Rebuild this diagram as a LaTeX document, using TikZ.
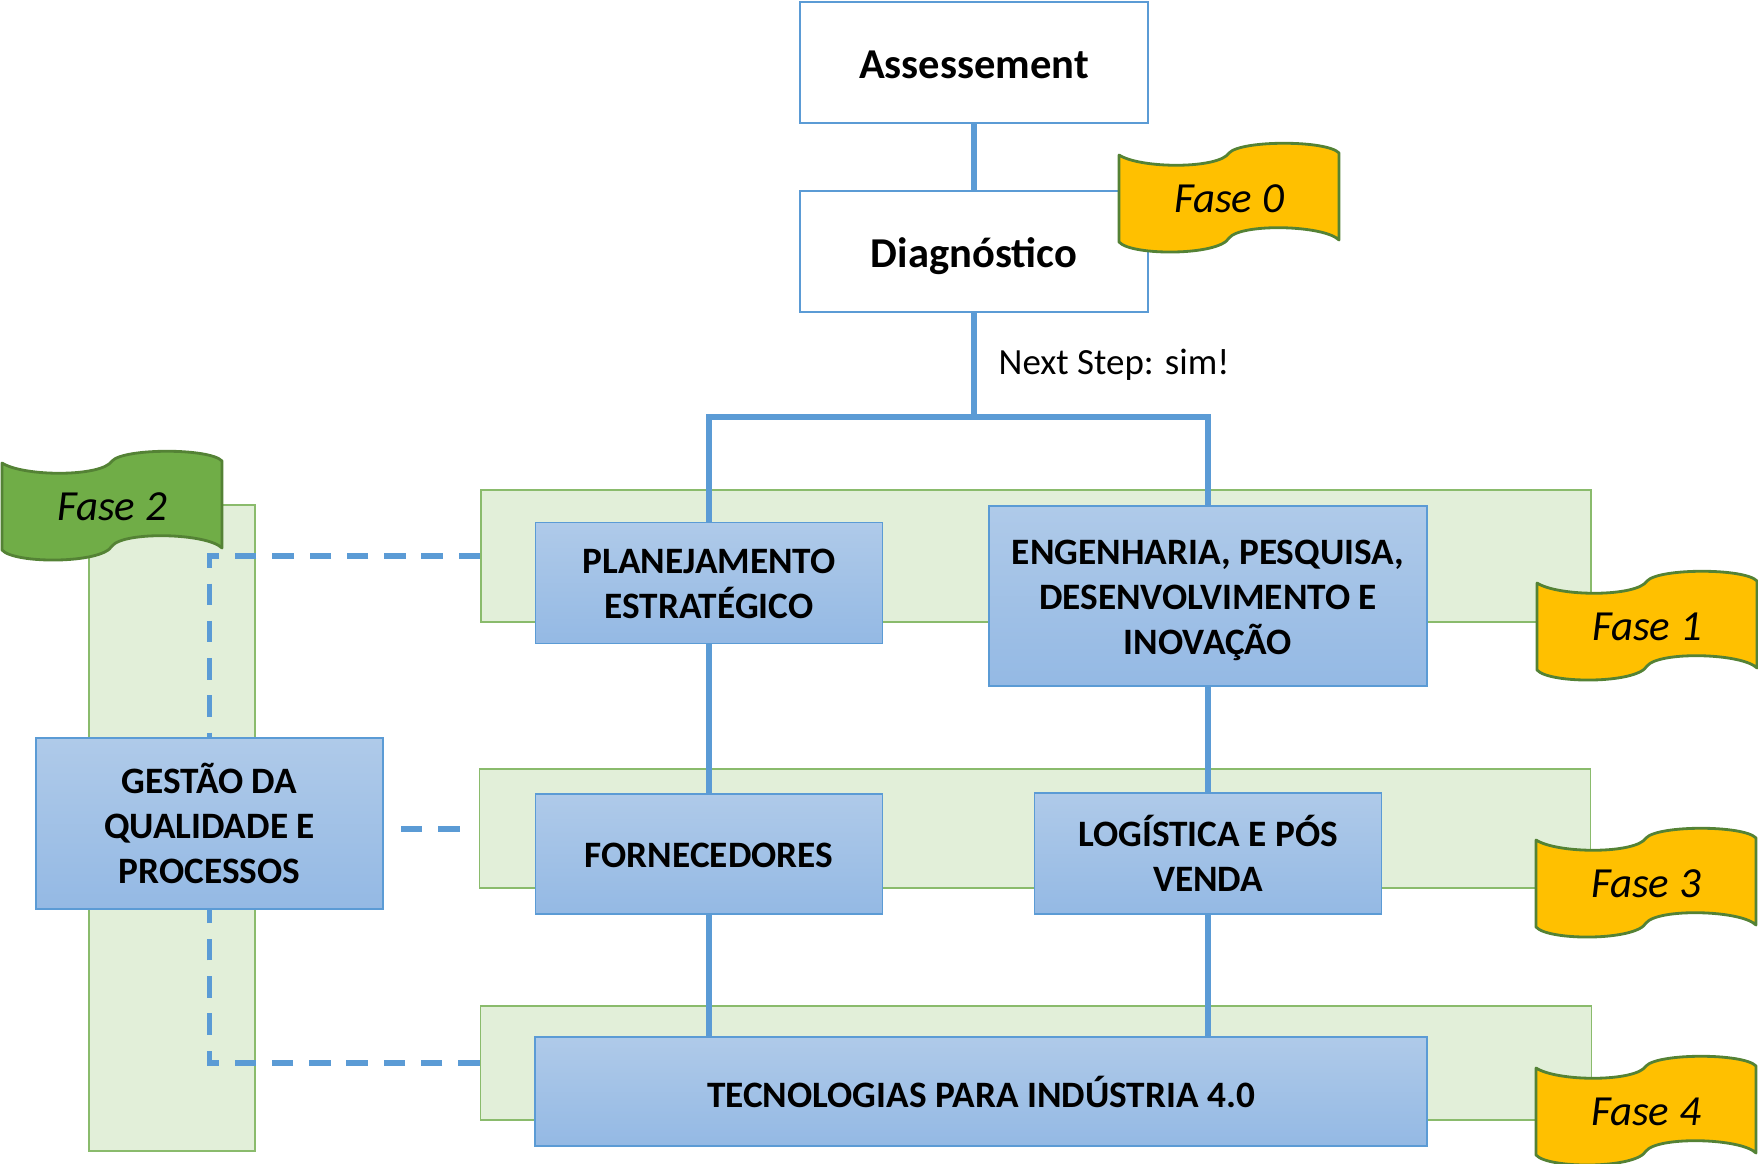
\documentclass[tikz,border=0pt]{standalone}
\usepackage{fontspec}
\setmainfont{Carlito}
\usetikzlibrary{positioning}

\definecolor{boxline}{HTML}{5B9BD5}
\definecolor{boxtop}{HTML}{AFCAE9}
\definecolor{boxbottom}{HTML}{94B9E4}
\definecolor{bandfill}{HTML}{E2EFD9}
\definecolor{bandline}{HTML}{8ABB6C}
\definecolor{flagline}{HTML}{548235}
\definecolor{flaggold}{HTML}{FFC000}
\definecolor{flaggreen}{HTML}{70AD47}

% wave flag, origin at its upper left corner
\newcommand{\faseflag}[5]{
    \draw[flag, fill=#4, shift={(#2,#3)}] (0,0) .. controls (22,14) and (100,14) .. (110,-2)
        .. controls (122,-15) and (208,-15) .. (220,-2) -- (220,85)
        .. controls (205,70) and (122,68) .. (110,83)
        .. controls (100,101) and (12,101) .. (0,87) -- cycle;
    \node[fasetext] at (#2+110,#3+44) (#1) {#5};
}

\begin{document}
\begin{tikzpicture}[x=0.01cm, y=-0.01cm,
    band/.style = {draw=bandline, fill=bandfill, line width=0.5pt, inner sep=0pt},
    white box/.style = {draw=boxline, fill=white, line width=0.7pt, inner sep=0pt, font=\fontsize{12.1}{14}\selectfont\bfseries},
    blue box/.style = {draw=boxline, top color=boxtop, bottom color=boxbottom, line width=0.5pt, inner sep=0pt, align=center, font=\fontsize{10.6}{12.8}\selectfont\bfseries},
    link/.style = {draw=boxline, line width=1.8pt},
    dashlink/.style = {draw=boxline, line width=1.6pt, dash pattern=on 6.1pt off 4.5pt},
    flag/.style = {draw=flagline, line width=0.8pt, line join=round},
    fasetext/.style = {inner sep=0pt, font=\fontsize{12.2}{14}\selectfont\itshape}]
    \useasboundingbox (0,0) rectangle (1758,1164);

    % green bands
    \node[band, minimum width=166*0.01cm, minimum height=646*0.01cm] at (172,828) (band2) {};
    \node[band, minimum width=1110*0.01cm, minimum height=132*0.01cm] at (1036,556) (phase1) {};
    \node[band, minimum width=1111*0.01cm, minimum height=119*0.01cm] at (1035,828.5) (phase3) {};
    \node[band, minimum width=1111*0.01cm, minimum height=114*0.01cm] at (1036,1063) (phase4) {};

    % boxes
    \node[white box, minimum width=348*0.01cm, minimum height=121*0.01cm] at (974,62.5) (assess) {\rule{0pt}{9pt}Assessement};
    \node[white box, minimum width=348*0.01cm, minimum height=121*0.01cm] at (974,251.5) (diag) {\rule{0pt}{11pt}Diagnóstico};
    \node[blue box, minimum width=347*0.01cm, minimum height=121*0.01cm] at (709,583) (plan) {\rule{0pt}{7.5pt}PLANEJAMENTO\\ESTRATÉGICO};
    \node[blue box, minimum width=438*0.01cm, minimum height=180*0.01cm] at (1208,596) (eng) {\rule{0pt}{9.4pt}ENGENHARIA, PESQUISA,\\DESENVOLVIMENTO E\\INOVAÇÃO};
    \node[blue box, minimum width=347*0.01cm, minimum height=171*0.01cm] at (209.5,823.5) (quality) {GESTÃO DA\\QUALIDADE E\\PROCESSOS};
    \node[blue box, minimum width=347*0.01cm, minimum height=120*0.01cm] at (709,854) (forn) {\rule{0pt}{7.5pt}FORNECEDORES};
    \node[blue box, minimum width=347*0.01cm, minimum height=121*0.01cm] at (1208,853.5) (log) {LOGÍSTICA E PÓS\\VENDA};
    \node[blue box, minimum width=892*0.01cm, minimum height=109*0.01cm] at (981,1091.5) (tec) {TECNOLOGIAS PARA INDÚSTRIA 4.0};

    \coordinate (fork) at (974,417);
    \coordinate (dashstart) at (401,829);
    \coordinate (dashend) at (460,829);

    \draw[link] (assess) -- (diag);
    \draw[link] (diag) -- (fork);
    \draw[link] (plan.north) |- (fork) -| (eng.north);
    \draw[link] (plan) -- (forn);
    \draw[link] (eng) -- (log);
    \draw[link] (forn.south) -- (forn.south |- tec.north);
    \draw[link] (log.south) -- (log.south |- tec.north);

    \draw[dashlink] (phase1.west) -| (quality.north);
    \draw[dashlink] (phase4.west) -| (quality.south);
    \draw[dashlink] (dashstart) -- (dashend);

    \node[right=0pt, inner sep=0pt, font=\fontsize{10.5}{12}\selectfont] at (998,365) (next) {Next Step: sim!};

    % flags
    \faseflag{fase0}{1119}{155}{flaggold}{Fase 0}
    \faseflag{fase2}{2}{463}{flaggreen}{Fase 2}
    \faseflag{fase1}{1537}{583}{flaggold}{Fase 1}
    \faseflag{fase3}{1536}{840}{flaggold}{Fase 3}
    \faseflag{fase4}{1536}{1068}{flaggold}{Fase 4}
\end{tikzpicture}
\end{document}
